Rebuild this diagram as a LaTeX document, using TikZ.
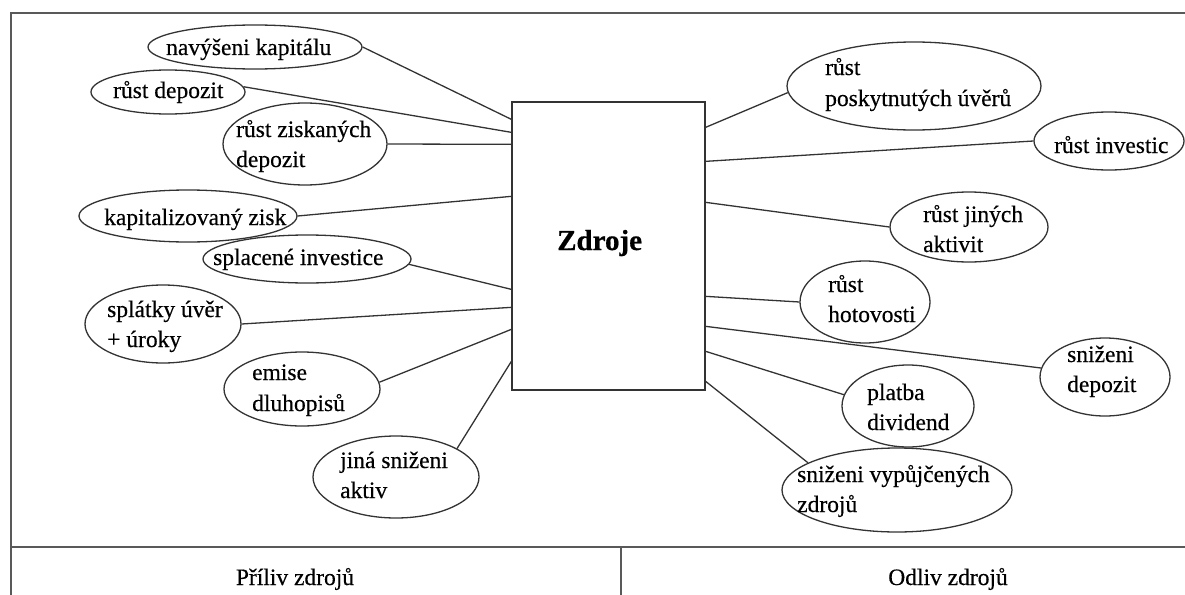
\documentclass[tikz,border=0pt]{standalone}
\usepackage{fontspec}
\setmainfont{Liberation Serif}[FakeBold=0.6]
\newfontfamily\lblfont{Liberation Serif}[FakeBold=0.4]
\usetikzlibrary{shapes.geometric}
\begin{document}
\begin{tikzpicture}[x=1pt,y=-1pt,
 ell/.style={draw=black!80, line width=1.3pt, ellipse, inner sep=0pt},
 conn/.style={draw=black!80, line width=1.3pt},
 frame/.style={draw=black!65, line width=2pt},
 txt/.style={inner sep=0pt, anchor=base west, font=\lblfont\fontsize{23.5}{28}\selectfont},
 ctxt/.style={inner sep=0pt, anchor=base, font=\lblfont\fontsize{23.5}{28}\selectfont}]
\useasboundingbox (0,0) rectangle (1185,594);
% frame
\draw[frame] (1186,13) -- (11,13) -- (11,595);
\draw[frame] (11,547) -- (1186,547);
\draw[frame] (621,547) -- (621,595);
% central box
\node[draw=black!80, line width=1.3pt, minimum width=193pt, minimum height=288pt, inner sep=0pt] (z) at (608.5,246) {};
\node[inner sep=0pt, anchor=base west, font=\fontsize{29}{32}\selectfont\bfseries] (zt) at (557,250) {Zdroje};
% left ellipses
\node[ell, minimum width=214pt, minimum height=44pt] (e1) at (255,47) {};
\node[ell, minimum width=154pt, minimum height=44pt] (e2) at (168,92) {};
\node[ell, minimum width=164pt, minimum height=82pt] (e3) at (305,144) {};
\node[ell, minimum width=218pt, minimum height=52pt] (e4) at (188,216) {};
\node[ell, minimum width=208pt, minimum height=48pt] (e5) at (307,259) {};
\node[ell, minimum width=156pt, minimum height=78pt] (e6) at (163,324) {};
\node[ell, minimum width=156pt, minimum height=74pt] (e7) at (302,389) {};
\node[ell, minimum width=166pt, minimum height=82pt] (e8) at (396,477) {};
% right ellipses
\node[ell, minimum width=254pt, minimum height=88pt] (e9) at (914,86) {};
\node[ell, minimum width=150pt, minimum height=58pt] (e10) at (1109,141) {};
\node[ell, minimum width=158pt, minimum height=70pt] (e11) at (969,227) {};
\node[ell, minimum width=130pt, minimum height=82pt] (e12) at (865,302) {};
\node[ell, minimum width=130pt, minimum height=78pt] (e13) at (1105,377) {};
\node[ell, minimum width=132pt, minimum height=82pt] (e14) at (908,406) {};
\node[ell, minimum width=230pt, minimum height=84pt] (e15) at (897,490) {};
% texts left
\node[txt] (t1) at (166,55) {navýšeni kapitálu};
\node[txt] (t2) at (113,98) {růst depozit};
\node[txt] (t3a) at (236,137) {růst ziskaných};
\node[txt] (t3b) at (236,167) {depozit};
\node[txt] (t4) at (104,225) {kapitalizovaný zisk};
\node[txt] (t5) at (213,265) {splacené investice};
\node[txt] (t6a) at (107,317) {splátky úvěr};
\node[txt] (t6b) at (107,347) {+ úroky};
\node[txt] (t7a) at (252,380) {emise};
\node[txt] (t7b) at (252,411) {dluhopisů};
\node[txt] (t8a) at (340,468) {jiná sniženi};
\node[txt] (t8b) at (340,498) {aktiv};
% texts right
\node[txt] (t9a) at (825,75) {růst};
\node[txt] (t9b) at (825,106) {poskytnutých úvěrů};
\node[txt] (t10) at (1054,153) {růst investic};
\node[txt] (t11a) at (923,222) {růst jiných};
\node[txt] (t11b) at (923,252) {aktivit};
\node[txt] (t12a) at (828,292) {růst};
\node[txt] (t12b) at (828,322) {hotovosti};
\node[txt] (t13a) at (1067,362) {sniženi};
\node[txt] (t13b) at (1067,392) {depozit};
\node[txt] (t14a) at (867,400) {platba};
\node[txt] (t14b) at (867,430) {dividend};
\node[txt] (t15a) at (797,482) {sniženi vypůjčených};
\node[txt] (t15b) at (797,512) {zdrojů};
% bottom labels
\node[ctxt] (inflow) at (295,585) {Příliv zdrojů};
\node[ctxt] (outflow) at (948,585) {Odliv zdrojů};
% connectors left
\draw[conn] (e1.east) -- ([yshift=-18pt]z.north west);
\draw[conn] (e2.4) -- ([yshift=-31pt]z.north west);
\draw[conn] (e3.east) -- ([yshift=-43pt]z.north west);
\draw[conn] (e4.east) -- ([yshift=-95pt]z.north west);
\draw[conn] (e5.-3) -- ([yshift=-188pt]z.north west);
\draw[conn] (e6.east) -- ([yshift=-206pt]z.north west);
\draw[conn] (e7.5) -- ([yshift=-228pt]z.north west);
\draw[conn] (e8.25) -- ([yshift=-260pt]z.north west);
% connectors right
\draw[conn] ([yshift=-26pt]z.north east) -- (e9.183);
\draw[conn] ([yshift=-60pt]z.north east) -- (e10.west);
\draw[conn] ([yshift=-101pt]z.north east) -- (e11.west);
\draw[conn] ([yshift=-195pt]z.north east) -- (e12.west);
\draw[conn] ([yshift=-225pt]z.north east) -- (e13.172);
\draw[conn] ([yshift=-250pt]z.north east) -- (e14.170);
\draw[conn] ([yshift=-280pt]z.north east) -- (e15.163);
\end{tikzpicture}
\end{document}
